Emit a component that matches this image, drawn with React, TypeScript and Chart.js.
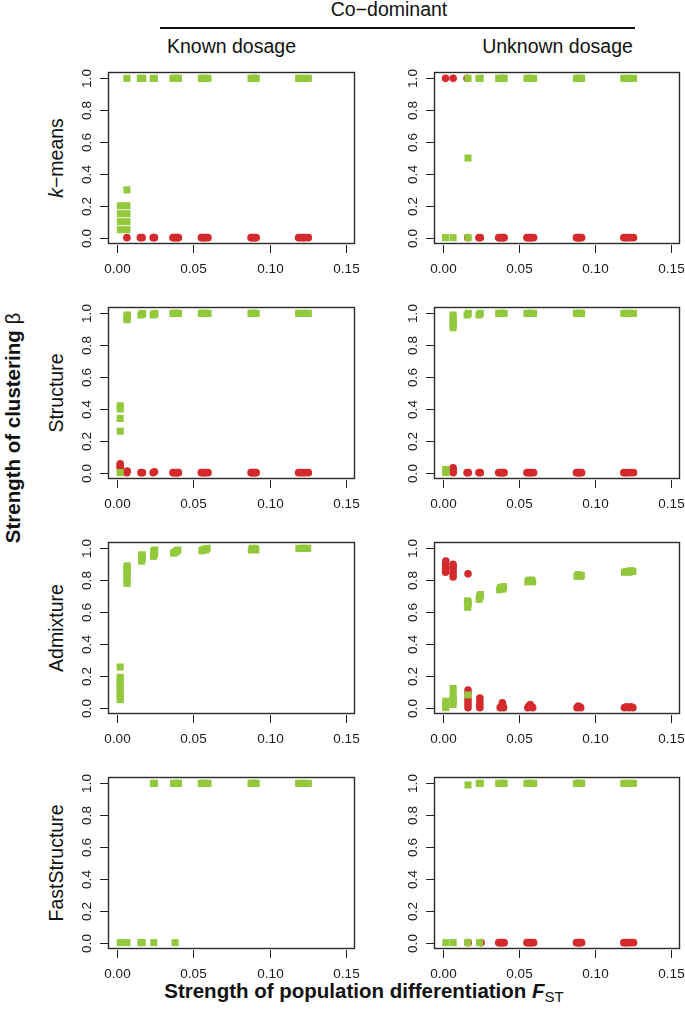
import React, { useEffect, useRef } from "react";
import { Chart, registerables } from "chart.js";
Chart.register(...registerables);

type P = [number, number];

const xTicks = [0, 0.05, 0.1, 0.15];
const xTickLabels = ["0.00", "0.05", "0.10", "0.15"];
const yTicks = [0, 0.2, 0.4, 0.6, 0.8, 1.0];
const yTickLabels = ["0.0", "0.2", "0.4", "0.6", "0.8", "1.0"];
const methodLabels = ["k−means", "Structure", "Admixture", "FastStructure"];
const dosageLabels = ["Known dosage", "Unknown dosage"];
const groupTitle = "Co−dominant";
const yTitle = "Strength of clustering ";
const xTitle = "Strength of population differentiation ";

// ---- k-means ----
const kmeansKnownGreen: P[] = [
  [0.0021, 0.05], [0.0021, 0.1], [0.0021, 0.15], [0.0021, 0.2],
  [0.0064, 0.05], [0.0064, 0.1], [0.0064, 0.15], [0.0064, 0.2], [0.0064, 0.3], [0.0064, 1],
  [0.0152, 1], [0.0160, 1], [0.0168, 1], [0.0236, 1], [0.0244, 1],
  [0.0366, 1], [0.0376, 1], [0.0386, 1], [0.0394, 1], [0.0402, 1],
  [0.0552, 1], [0.0562, 1], [0.0572, 1], [0.0582, 1], [0.0596, 1],
  [0.0878, 1], [0.0886, 1], [0.0894, 1], [0.0902, 1], [0.0912, 1],
  [0.1190, 1], [0.1204, 1], [0.1218, 1], [0.1232, 1], [0.1254, 1],
];
const kmeansKnownRed: P[] = [
  [0.0064, 0], [0.0152, 0], [0.0164, 0], [0.0236, 0], [0.0245, 0],
  [0.0366, 0], [0.0376, 0], [0.0386, 0], [0.0394, 0], [0.0402, 0],
  [0.0552, 0], [0.0562, 0], [0.0572, 0], [0.0582, 0], [0.0596, 0],
  [0.0878, 0], [0.0886, 0], [0.0894, 0], [0.0902, 0], [0.0912, 0],
  [0.1190, 0], [0.1204, 0], [0.1218, 0], [0.1232, 0], [0.1254, 0],
];
const kmeansUnknownGreen: P[] = [
  [0.0016, 0], [0.0066, 0], [0.0164, 0], [0.0164, 0.5], [0.0164, 1],
  [0.0236, 1], [0.0244, 1],
  [0.0366, 1], [0.0376, 1], [0.0386, 1], [0.0394, 1], [0.0402, 1],
  [0.0552, 1], [0.0562, 1], [0.0572, 1], [0.0582, 1], [0.0596, 1],
  [0.0878, 1], [0.0886, 1], [0.0894, 1], [0.0902, 1], [0.0912, 1],
  [0.1190, 1], [0.1204, 1], [0.1218, 1], [0.1232, 1], [0.1254, 1],
];
const kmeansUnknownRed: P[] = [
  [0.0016, 1], [0.0066, 1], [0.0158, 1], [0.0162, 0],
  [0.0236, 0], [0.0245, 0],
  [0.0366, 0], [0.0376, 0], [0.0386, 0], [0.0394, 0], [0.0402, 0],
  [0.0552, 0], [0.0562, 0], [0.0572, 0], [0.0582, 0], [0.0596, 0],
  [0.0878, 0], [0.0886, 0], [0.0894, 0], [0.0902, 0], [0.0912, 0],
  [0.1190, 0], [0.1204, 0], [0.1218, 0], [0.1232, 0], [0.1254, 0],
];

// ---- Structure ----
const structureKnownGreen: P[] = [
  [0.0020, 0], [0.0020, 0.26], [0.0020, 0.34], [0.0020, 0.40], [0.0020, 0.42],
  [0.0065, 0.96], [0.0065, 0.97], [0.0066, 0.98], [0.0066, 0.99],
  [0.0156, 0.99], [0.0164, 1], [0.0168, 0.995], [0.0236, 0.99], [0.0244, 1], [0.0248, 0.995],
  [0.0366, 1], [0.0376, 1], [0.0386, 1], [0.0394, 1], [0.0402, 1],
  [0.0552, 1], [0.0562, 1], [0.0572, 1], [0.0582, 1], [0.0596, 1],
  [0.0878, 1], [0.0886, 1], [0.0894, 1], [0.0902, 1], [0.0912, 1],
  [0.1190, 1], [0.1204, 1], [0.1218, 1], [0.1232, 1], [0.1254, 1],
];
const structureKnownRed: P[] = [
  [0.0020, 0.03], [0.0020, 0.045], [0.0020, 0.055],
  [0.0063, 0], [0.0066, 0.01], [0.0156, 0], [0.0166, 0], [0.0236, 0], [0.0245, 0.005],
  [0.0366, 0], [0.0376, 0], [0.0386, 0], [0.0394, 0], [0.0402, 0],
  [0.0552, 0], [0.0562, 0], [0.0572, 0], [0.0582, 0], [0.0596, 0],
  [0.0878, 0], [0.0886, 0], [0.0894, 0], [0.0902, 0], [0.0912, 0],
  [0.1190, 0], [0.1204, 0], [0.1218, 0], [0.1232, 0], [0.1254, 0],
];
const structureUnknownGreen: P[] = [
  [0.0018, 0], [0.0018, 0.01], [0.0018, 0.02],
  [0.0066, 0.91], [0.0066, 0.93], [0.0066, 0.95], [0.0066, 0.97], [0.0066, 0.99],
  [0.0158, 0.99], [0.0166, 1], [0.0236, 0.99], [0.0245, 1],
  [0.0366, 1], [0.0376, 1], [0.0386, 1], [0.0394, 1], [0.0402, 1],
  [0.0552, 1], [0.0562, 1], [0.0572, 1], [0.0582, 1], [0.0596, 1],
  [0.0878, 1], [0.0886, 1], [0.0894, 1], [0.0902, 1], [0.0912, 1],
  [0.1190, 1], [0.1204, 1], [0.1218, 1], [0.1232, 1], [0.1254, 1],
];
const structureUnknownRed: P[] = [
  [0.0066, 0], [0.0066, 0.01], [0.0066, 0.02], [0.0066, 0.03],
  [0.0158, 0], [0.0166, 0], [0.0236, 0], [0.0245, 0],
  [0.0366, 0], [0.0376, 0], [0.0386, 0], [0.0394, 0], [0.0402, 0],
  [0.0552, 0], [0.0562, 0], [0.0572, 0], [0.0582, 0], [0.0596, 0],
  [0.0878, 0], [0.0886, 0], [0.0894, 0], [0.0902, 0], [0.0912, 0],
  [0.1190, 0], [0.1204, 0], [0.1218, 0], [0.1232, 0], [0.1254, 0],
];

// ---- Admixture ----
const admixtureKnownGreen: P[] = [
  [0.0020, 0.05], [0.0020, 0.07], [0.0020, 0.09], [0.0020, 0.11],
  [0.0020, 0.13], [0.0020, 0.15], [0.0020, 0.17], [0.0020, 0.19], [0.0020, 0.255],
  [0.0065, 0.78], [0.0065, 0.80], [0.0065, 0.82], [0.0065, 0.84], [0.0065, 0.86],
  [0.0065, 0.88], [0.0065, 0.89],
  [0.0160, 0.92], [0.0162, 0.93], [0.0164, 0.94], [0.0160, 0.95], [0.0164, 0.96],
  [0.0238, 0.95], [0.0242, 0.96], [0.0246, 0.97], [0.0240, 0.98], [0.0246, 0.99],
  [0.0370, 0.97], [0.0378, 0.975], [0.0386, 0.98], [0.0392, 0.985], [0.0398, 0.99],
  [0.0556, 0.985], [0.0564, 0.99], [0.0572, 0.995], [0.0580, 0.99], [0.0590, 1.0],
  [0.0880, 0.99], [0.0888, 1.0], [0.0896, 0.995], [0.0904, 1.0], [0.0910, 0.99],
  [0.1192, 1], [0.1206, 1], [0.1220, 1], [0.1234, 1], [0.1250, 1],
];
const admixtureKnownRed: P[] = [];
const admixtureUnknownGreen: P[] = [
  [0.0018, 0.0], [0.0018, 0.02], [0.0018, 0.04],
  [0.0066, 0.02], [0.0066, 0.04], [0.0066, 0.06], [0.0066, 0.08], [0.0066, 0.12],
  [0.0164, 0.08],
  [0.0162, 0.63], [0.0164, 0.645], [0.0166, 0.66], [0.0160, 0.67],
  [0.0237, 0.68], [0.0242, 0.695], [0.0246, 0.71], [0.0240, 0.70],
  [0.0372, 0.74], [0.0380, 0.755], [0.0388, 0.75], [0.0394, 0.745], [0.0398, 0.76],
  [0.0558, 0.79], [0.0566, 0.80], [0.0574, 0.795], [0.0582, 0.80], [0.0590, 0.79],
  [0.0882, 0.825], [0.0890, 0.835], [0.0898, 0.83], [0.0906, 0.825], [0.0910, 0.83],
  [0.1194, 0.85], [0.1208, 0.855], [0.1222, 0.85], [0.1236, 0.86], [0.1250, 0.855],
];
const admixtureUnknownRed: P[] = [
  [0.0016, 0.85], [0.0016, 0.87], [0.0018, 0.88], [0.0016, 0.90], [0.0018, 0.92],
  [0.0066, 0.82], [0.0066, 0.84], [0.0066, 0.86], [0.0066, 0.88], [0.0066, 0.90],
  [0.0164, 0.84],
  [0.0164, 0.0], [0.0164, 0.02], [0.0164, 0.04], [0.0164, 0.06], [0.0164, 0.09], [0.0164, 0.11],
  [0.0242, 0.0], [0.0242, 0.02], [0.0242, 0.04], [0.0242, 0.06],
  [0.0376, 0.0], [0.0386, 0.01], [0.0392, 0.02], [0.0390, 0.03], [0.0398, 0.0],
  [0.0558, 0.0], [0.0566, 0.01], [0.0574, 0.02], [0.0582, 0.005], [0.0590, 0.0],
  [0.0882, 0.0], [0.0890, 0.01], [0.0898, 0.005], [0.0906, 0.0],
  [0.1194, 0.0], [0.1208, 0.005], [0.1222, 0.0], [0.1236, 0.005], [0.1250, 0.0],
];

// ---- FastStructure ----
const fastKnownGreen: P[] = [
  [0.0020, 0], [0.0064, 0], [0.0156, 0], [0.0164, 0], [0.0240, 0], [0.0380, 0],
  [0.0238, 1], [0.0245, 1],
  [0.0370, 1], [0.0380, 1], [0.0390, 1], [0.0398, 1], [0.0402, 1],
  [0.0552, 1], [0.0562, 1], [0.0572, 1], [0.0582, 1], [0.0596, 1],
  [0.0878, 1], [0.0886, 1], [0.0894, 1], [0.0902, 1], [0.0912, 1],
  [0.1190, 1], [0.1204, 1], [0.1218, 1], [0.1232, 1], [0.1254, 1],
];
const fastKnownRed: P[] = [];
const fastUnknownGreen: P[] = [
  [0.0018, 0], [0.0066, 0], [0.0162, 0], [0.0240, 0],
  [0.0164, 0.99], [0.0238, 1], [0.0245, 1],
  [0.0366, 1], [0.0376, 1], [0.0386, 1], [0.0394, 1], [0.0402, 1],
  [0.0552, 1], [0.0562, 1], [0.0572, 1], [0.0582, 1], [0.0596, 1],
  [0.0878, 1], [0.0886, 1], [0.0894, 1], [0.0902, 1], [0.0912, 1],
  [0.1190, 1], [0.1204, 1], [0.1218, 1], [0.1232, 1], [0.1254, 1],
];
const fastUnknownRed: P[] = [
  [0.0166, 0], [0.0250, 0],
  [0.0366, 0], [0.0376, 0], [0.0386, 0], [0.0394, 0], [0.0402, 0],
  [0.0552, 0], [0.0562, 0], [0.0572, 0], [0.0582, 0], [0.0596, 0],
  [0.0878, 0], [0.0886, 0], [0.0894, 0], [0.0902, 0], [0.0912, 0],
  [0.1190, 0], [0.1204, 0], [0.1218, 0], [0.1232, 0], [0.1254, 0],
];

const panelGreen: P[][][] = [
  [kmeansKnownGreen, kmeansUnknownGreen],
  [structureKnownGreen, structureUnknownGreen],
  [admixtureKnownGreen, admixtureUnknownGreen],
  [fastKnownGreen, fastUnknownGreen],
];
const panelRed: P[][][] = [
  [kmeansKnownRed, kmeansUnknownRed],
  [structureKnownRed, structureUnknownRed],
  [admixtureKnownRed, admixtureUnknownRed],
  [fastKnownRed, fastUnknownRed],
];

const GREEN = "#92C83C";
const RED = "#D42A2C";
const FONT = '"Liberation Sans", Arial, Helvetica, sans-serif';

// layout (pixels)
const BOX_W = 247;
const BOX_H = 172;
const COL_LEFT = [108, 434];
const ROW_TOP = [72, 307, 542, 777];
const PAD_L = 50;
const PAD_T = 10;
const PAD_B = 36;
const PAD_R = [14, 4];

const rAxesPlugin = {
  id: "rAxes",
  afterDraw(chart: any) {
    const { ctx, chartArea: a } = chart;
    const xs = chart.scales.x;
    const ys = chart.scales.y;
    ctx.save();
    ctx.strokeStyle = "#2b2b2b";
    ctx.lineWidth = 1.4;
    ctx.strokeRect(a.left + 0.5, a.top + 0.5, a.right - a.left - 1, a.bottom - a.top - 1);
    ctx.lineWidth = 1;
    ctx.strokeStyle = "#222";
    ctx.fillStyle = "#1a1a1a";
    ctx.font = `13.5px ${FONT}`;
    ctx.textAlign = "center";
    ctx.textBaseline = "middle";
    xTicks.forEach((v, i) => {
      const px = Math.round(xs.getPixelForValue(v)) + 0.5;
      ctx.beginPath();
      ctx.moveTo(px, a.bottom + 1);
      ctx.lineTo(px, a.bottom + 9);
      ctx.stroke();
      ctx.fillText(xTickLabels[i], px, a.bottom + 25);
    });
    yTicks.forEach((v, i) => {
      const py = Math.round(ys.getPixelForValue(v)) + 0.5;
      ctx.beginPath();
      ctx.moveTo(a.left - 8, py);
      ctx.lineTo(a.left, py);
      ctx.stroke();
      ctx.save();
      ctx.translate(a.left - 21, py);
      ctx.rotate(-Math.PI / 2);
      ctx.fillText(yTickLabels[i], 0, 0);
      ctx.restore();
    });
    ctx.restore();
  },
};

function Panel({ row, col }: { row: number; col: number }) {
  const ref = useRef<HTMLCanvasElement>(null);
  const w = PAD_L + BOX_W + PAD_R[col];
  const h = PAD_T + BOX_H + PAD_B;
  useEffect(() => {
    const chart = new Chart(ref.current as HTMLCanvasElement, {
      type: "scatter",
      data: {
        datasets: [
          {
            data: panelGreen[row][col].map(([x, y]) => ({ x, y })),
            pointStyle: "rect",
            pointRadius: 5,
            backgroundColor: GREEN,
            borderWidth: 0,
          },
          {
            data: panelRed[row][col].map(([x, y]) => ({ x, y })),
            pointStyle: "circle",
            pointRadius: 3.8,
            backgroundColor: RED,
            borderWidth: 0,
          },
        ],
      },
      options: {
        responsive: false,
        animation: false,
        events: [],
        layout: { padding: { left: PAD_L, top: PAD_T, right: PAD_R[col], bottom: PAD_B } },
        plugins: { legend: { display: false }, tooltip: { enabled: false } },
        scales: {
          x: { type: "linear", display: false, min: -0.006, max: 0.156 },
          y: { type: "linear", display: false, min: -0.04, max: 1.04 },
        },
      },
      plugins: [rAxesPlugin],
    } as any);
    return () => chart.destroy();
  }, [row, col]);
  return (
    <canvas
      ref={ref}
      width={w}
      height={h}
      style={{
        position: "absolute",
        left: COL_LEFT[col] - PAD_L,
        top: ROW_TOP[row] - PAD_T,
        width: w,
        height: h,
      }}
    />
  );
}

const rotated = (x: number, y: number): React.CSSProperties => ({
  position: "absolute",
  left: x,
  top: y,
  transform: "translate(-50%, -50%) rotate(-90deg)",
  whiteSpace: "nowrap",
  lineHeight: 1,
});
const centered = (x: number, y: number): React.CSSProperties => ({
  position: "absolute",
  left: x,
  top: y,
  transform: "translate(-50%, -50%)",
  whiteSpace: "nowrap",
  lineHeight: 1,
});

export default function App() {
  const cells: React.ReactNode[] = [];
  for (let r = 0; r < 4; r++) for (let c = 0; c < 2; c++) cells.push(<Panel key={`${r}-${c}`} row={r} col={c} />);
  return (
    <div
      style={{
        position: "absolute",
        left: 0,
        top: 0,
        width: 685,
        height: 1009,
        overflow: "hidden",
        background: "#fff",
        fontFamily: FONT,
        color: "#111",
      }}
    >
      <div style={{ ...centered(389, 10), fontSize: 19.5 }}>{groupTitle}</div>
      <div style={{ position: "absolute", left: 160, top: 26.5, width: 475, height: 2, background: "#111" }} />
      {dosageLabels.map((t, c) => (
        <div key={t} style={{ ...centered(COL_LEFT[c] + BOX_W / 2, 47), fontSize: 19.5 }}>
          {t}
        </div>
      ))}
      {methodLabels.map((t, r) => (
        <div key={t} style={{ ...rotated(57, ROW_TOP[r] + BOX_H / 2), fontSize: 19.5 }}>
          {r === 0 ? (
            <>
              <i>k</i>
              {t.slice(1)}
            </>
          ) : (
            t
          )}
        </div>
      ))}
      <div style={{ ...rotated(13, 428), fontSize: 20.5, fontWeight: "bold" }}>
        {yTitle}
        <span style={{ fontWeight: "normal" }}>β</span>
      </div>
      <div style={{ ...centered(364, 991), fontSize: 20.5, fontWeight: "bold" }}>
        {xTitle}
        <i>F</i>
        <span style={{ fontWeight: "normal", fontSize: 15, position: "relative", top: 4 }}>ST</span>
      </div>
      {cells}
    </div>
  );
}
